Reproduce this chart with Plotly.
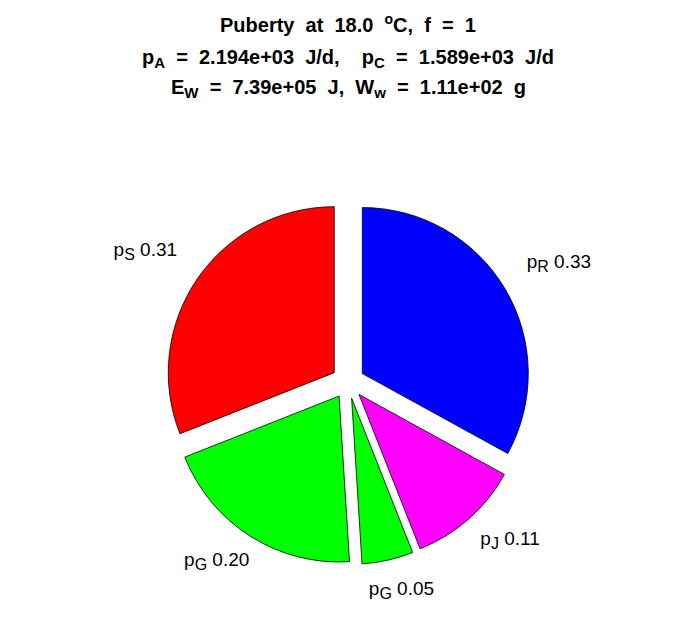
import numpy as np
import plotly.graph_objects as go

# ---- data ----
slice_ids = ["pR", "pJ", "pG_a", "pG_b", "pS"]
slice_names = ["R", "J", "G", "G", "S"]          # subscripts of p
fractions = [0.33, 0.11, 0.05, 0.20, 0.31]
slice_colors = ["#0000FF", "#FF00FF", "#00FF00", "#00FF00", "#FF0000"]

SUBT = '<sub><span style="font-size:15px">{}</span></sub>'
title_lines = [
    "Puberty at 18.0 <sup>o</sup>C, f = 1",
    "p" + SUBT.format("A") + " = 2.194e+03 J/d,  p" + SUBT.format("C") + " = 1.589e+03 J/d",
    "E" + SUBT.format("W") + " = 7.39e+05 J, W" + SUBT.format("w") + " = 1.11e+02 g",
]

# ---- geometry (layout only); page body has an 8px margin ----
OFF = 8
W, H = 696 - 2 * OFF, 618 - 2 * OFF
cx, cy = 348 - OFF, 382 - OFF   # pie centre in figure px (from top)
R = 166                          # pie radius, px
pull = 0.1
lab_a, lab_b, lab_dy = 1.476, 1.328, 0.042   # label ellipse, in units of R
FONT = "Liberation Sans, Arial, sans-serif"

half = R * (1 + pull)
cyb = H - cy
pie_domain = dict(x=[(cx - half) / W, (cx + half) / W], y=[(cyb - half) / H, (cyb + half) / H])

fig = go.Figure()

fig.add_trace(go.Pie(
    labels=slice_ids,
    values=fractions,
    sort=False,
    direction="clockwise",
    rotation=0,
    pull=[pull] * len(fractions),
    marker=dict(colors=slice_colors, line=dict(color="black", width=0.8)),
    textinfo="none",
    hoverinfo="none",
    showlegend=False,
    domain=pie_domain,
))

# labels at slice bisectors on a hidden cartesian frame centred on the pie (1 unit = R)
vals = np.array(fractions)
mid = (np.cumsum(vals) - vals / 2) / vals.sum() * 2 * np.pi
lx = lab_a * np.sin(mid)
ly = lab_b * np.cos(mid) + lab_dy
texts = ["p" + '<sub><span style="font-size:16px">' + n + "</span></sub> " + f"{v:.2f}"
         for n, v in zip(slice_names, fractions)]

fig.add_trace(go.Scatter(
    x=lx, y=ly, mode="text", text=texts, textposition="middle center",
    textfont=dict(family=FONT, size=19, color="black"),
    hoverinfo="none", showlegend=False, cliponaxis=False,
))

fig.update_layout(
    width=W, height=H,
    margin=dict(l=0, r=0, t=0, b=0),
    paper_bgcolor="white",
    plot_bgcolor="rgba(0,0,0,0)",
    xaxis=dict(range=[-cx / R, (W - cx) / R], visible=False, fixedrange=True),
    yaxis=dict(range=[-cyb / R, cy / R], visible=False, fixedrange=True),
)

title_centers = [23.6, 58.5, 88.4]   # window px
for t, yc in zip(title_lines, title_centers):
    wide = t.replace(" ", "  ")       # the reference renders wide word gaps
    fig.add_annotation(
        text=f"<b>{wide}</b>", x=0.5, y=1 - (yc - OFF) / H, xref="paper", yref="paper",
        xanchor="center", yanchor="middle", showarrow=False,
        font=dict(family=FONT, size=20, color="black"),
    )

fig.write_html("out.html")
